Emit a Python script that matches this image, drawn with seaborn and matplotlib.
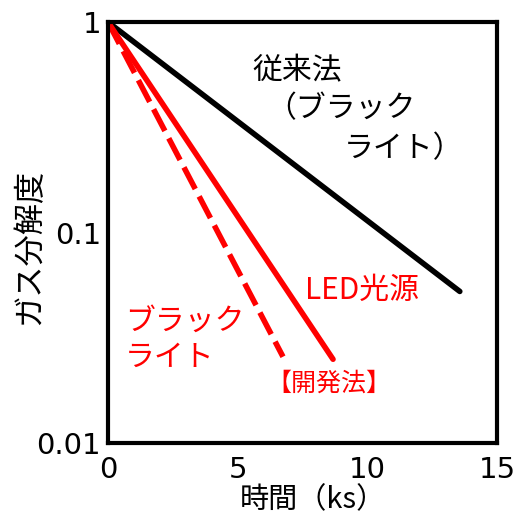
import matplotlib
matplotlib.use("Agg")
import matplotlib.pyplot as plt
import seaborn as sns
import pandas as pd
from matplotlib.ticker import FixedLocator, FixedFormatter, NullLocator

# Decomposition curves (time in ks, relative gas concentration)
conv_time = [0.0, 13.57]
conv_value = [1.0, 0.0525]
led_time = [0.0, 8.68]
led_value = [1.0, 0.025]
bl_time = [0.0, 6.75]
bl_value = [1.0, 0.0257]

x_ticks = [0, 5, 10, 15]
x_tick_labels = ["0", "5", "10", "15"]
y_ticks = [0.01, 0.1, 1]
y_tick_labels = ["0.01", "0.1", "1"]

sns.set_theme(style="white")
plt.rcParams["font.family"] = ["DejaVu Sans", "Noto Sans CJK JP"]

fig = plt.figure(figsize=(5.32, 5.19), dpi=100)
ax = fig.add_axes([0.203, 0.1464, 0.731, 0.811])

df_conv = pd.DataFrame({"t": conv_time, "c": conv_value})
df_led = pd.DataFrame({"t": led_time, "c": led_value})
df_bl = pd.DataFrame({"t": bl_time, "c": bl_value})

sns.lineplot(data=df_conv, x="t", y="c", ax=ax, color="black", linewidth=4.0)
sns.lineplot(data=df_led, x="t", y="c", ax=ax, color="#ff0000", linewidth=4.0)
sns.lineplot(data=df_bl, x="t", y="c", ax=ax, color="#ff0000", linewidth=4.0,
             linestyle=(0, (4.4, 1.5)))

ax.set_yscale("log")
ax.set_xlim(0, 15)
ax.set_ylim(0.01, 1)

ax.xaxis.set_major_locator(FixedLocator(x_ticks))
ax.xaxis.set_major_formatter(FixedFormatter(x_tick_labels))
ax.yaxis.set_major_locator(FixedLocator(y_ticks))
ax.yaxis.set_major_formatter(FixedFormatter(y_tick_labels))
ax.yaxis.set_minor_locator(NullLocator())
ax.xaxis.set_minor_locator(NullLocator())

ax.tick_params(axis="both", direction="in", length=12, width=2.5, color="black",
               labelsize=21, labelcolor="black", pad=5)
ax.tick_params(axis="x", pad=9)
for s in ax.spines.values():
    s.set_color("black")
    s.set_linewidth(3)
    s.set_visible(True)

jp = ["Noto Sans CJK JP", "DejaVu Sans"]
ax.set_xlabel("時間（ks）", fontsize=21, color="black", family=jp, va="center")
ax.set_ylabel("ガス分解度", fontsize=22.5, color="black", family=jp, va="center")
ax.xaxis.set_label_coords(0.527, -0.135)
ax.yaxis.set_label_coords(-0.203, 0.467)

fs = 21.5
ax.text(7.29, 0.59, "従来法", fontsize=fs, color="black", ha="center", va="center", family=jp)
ax.text(6.1, 0.39, "（ブラック", fontsize=fs, color="black", ha="left", va="center", family=jp)
ax.text(9.1, 0.25, "ライト）", fontsize=fs, color="black", ha="left", va="center", family=jp)

ax.text(7.6, 0.053, "LED光源", fontsize=fs, color="#ff0000", ha="left", va="center", family=jp)
ax.text(0.66, 0.038, "ブラック", fontsize=fs, color="#ff0000", ha="left", va="center", family=jp)
ax.text(0.66, 0.0254, "ライト", fontsize=fs, color="#ff0000", ha="left", va="center", family=jp)
ax.text(6.1, 0.0191, "【開発法】", fontsize=18, color="#ff0000", ha="left", va="center", family=jp)

fig.savefig("out.png", dpi=100)
